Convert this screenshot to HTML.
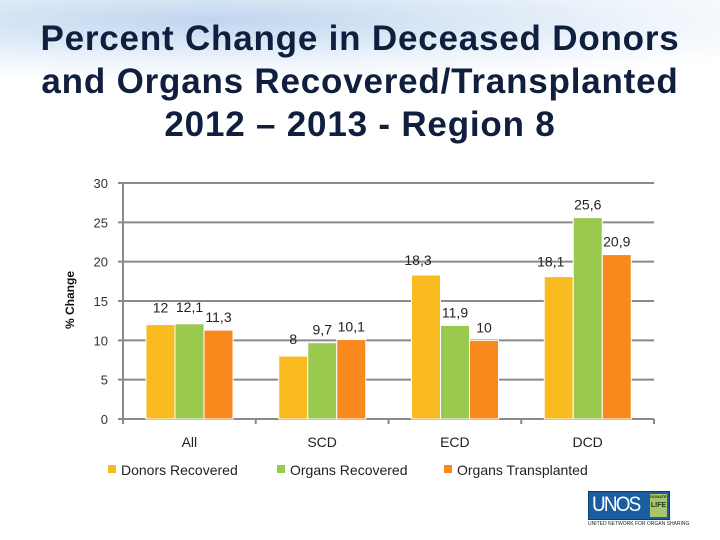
<!DOCTYPE html>
<html><head><meta charset="utf-8"><style>
html,body{margin:0;padding:0;background:#fff}
#wrap{position:relative;width:720px;height:540px;overflow:hidden;background:#fff}
.t{position:absolute;left:0;width:720px;text-align:center;font-family:"Liberation Sans",sans-serif;font-weight:bold;font-size:35px;color:#0f1f3d;line-height:43px;top:17px;letter-spacing:0.8px;white-space:nowrap}
svg{position:absolute;left:0;top:0}
</style></head><body>
<div id="wrap">
<div style="position:absolute;left:-60px;top:-40px;width:900px;height:120px;background:radial-gradient(ellipse at 30% 50%,rgba(140,180,225,0.55),rgba(190,215,240,0.25) 50%,rgba(255,255,255,0) 75%)"></div>
<div class="t">Percent Change in Deceased Donors<br>and Organs Recovered/Transplanted<br>2012 – 2013 - Region 8</div>
<svg id="c" width="720" height="540"></svg>
<div style="position:absolute;left:588px;top:491px;width:80px;height:27px;background:#1a5da0;border:1px solid #0d3c6e">
<span style="position:absolute;left:3px;top:1px;font:21px 'Liberation Sans',sans-serif;color:#fff;letter-spacing:-2px;transform:scaleX(0.9);transform-origin:left">UNOS</span>
<div style="position:absolute;left:61px;top:2px;width:17px;height:23px;background:#a9c46a;font:bold 4px 'Liberation Sans',sans-serif;color:#1a3a10;text-align:center;line-height:6px">DONATE<br><span style="font-size:7px;line-height:12px">LIFE</span></div></div>
<div style="position:absolute;left:588px;top:521px;font:5px 'Liberation Sans',sans-serif;color:#222">UNITED NETWORK FOR ORGAN SHARING</div>
</div>
<script>
const categories=["All","SCD","ECD","DCD"];
const seriesNames=["Donors Recovered","Organs Recovered","Organs Transplanted"];
const donors=[12,8,18.3,18.1];
const organsRec=[12.1,9.7,11.9,25.6];
const organsTx=[11.3,10.1,10,20.9];
const labelsD=["12","8","18,3","18,1"];
const labelsR=["12,1","9,7","11,9","25,6"];
const labelsT=["11,3","10,1","10","20,9"];
const ticks=[0,5,10,15,20,25,30];
const colors=["#f9bb1f","#99c94f","#f7891d"];
const NS="http://www.w3.org/2000/svg";
const svg=document.getElementById('c');
const X0=123,X1=654,Y0=419,Y1=183,YMAX=30;
const y=v=>Y0-(v/YMAX)*(Y0-Y1);
const bw=(X1-X0)/categories.length;
const x=i=>X0+i*bw;
function mk(t,a){const e=document.createElementNS(NS,t);for(const k in a)e.setAttribute(k,a[k]);svg.appendChild(e);return e;}
const F='"Liberation Sans",sans-serif';
ticks.forEach(t=>{
 const l=mk('line',{x1:X0-5,x2:X1,y1:y(t),y2:y(t),stroke:'#8a8a8a','stroke-width':2});
 
 
 const tx=mk('text',{x:108,y:y(t)+5,'text-anchor':'end','font-family':F,'font-size':13,fill:'#333'});
 tx.textContent=t;
 
 
});
const ax=mk('line',{x1:X0,x2:X0,y1:Y1,y2:Y0,stroke:'#8a8a8a','stroke-width':2});


for(let i=0;i<=categories.length;i++){
 const tk=mk('line',{x1:x(i),x2:x(i),y1:Y0,y2:Y0+5,stroke:'#8a8a8a','stroke-width':2});
 
 
}
const series=[donors,organsRec,organsTx];
const labs=[labelsD,labelsR,labelsT];
const W=29,off=23;
categories.forEach((c,i)=>{
 series.forEach((s,j)=>{
  const bx=x(i)+off+j*W;
  const r=mk('rect',{x:bx,y:y(s[i]),width:W,height:Y0-y(s[i]),fill:colors[j],stroke:'#fff','stroke-width':1});
  
  
  const t=mk('text',{x:bx+W/2-(j==0&&s[i]>15?8:0),y:y(s[i])-(j==0&&s[i]>15?10:(j==0||j==1&&i==0?12:8)),'text-anchor':'middle','font-family':F,'font-size':14,fill:'#222'});
  t.textContent=labs[j][i];
  
  
 });
 const cl=mk('text',{x:x(i)+bw/2,y:447,'text-anchor':'middle','font-family':F,'font-size':14,fill:'#222'});
 cl.textContent=c;
 
 
});
const yt=mk('text',{x:0,y:0,transform:'translate(74,300) rotate(-90)','text-anchor':'middle','font-family':F,'font-size':12,'font-weight':'bold',fill:'#111'});
yt.textContent='% Change';


const lx=[108,277,444];
seriesNames.forEach((n,j)=>{
 const r=mk('rect',{x:lx[j],y:465,width:8,height:8,fill:colors[j]});
 
 
 const t=mk('text',{x:lx[j]+13,y:475,'font-family':F,'font-size':14,fill:'#222'});
 t.textContent=n;
 
 
});
</script>
</body></html>
